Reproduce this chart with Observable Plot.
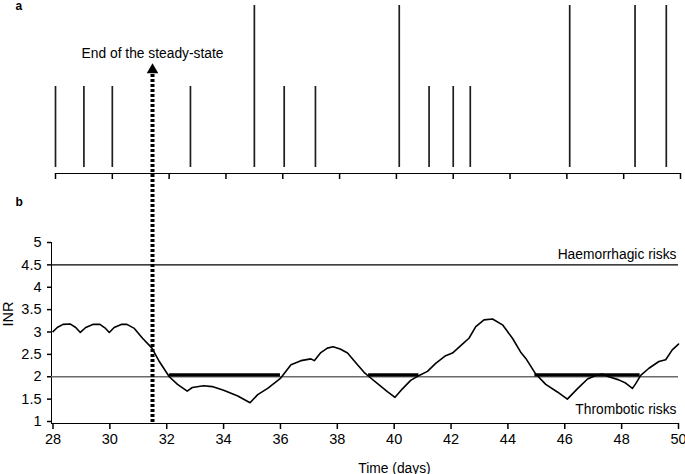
<!DOCTYPE html>
<html><head><meta charset="utf-8">
<script src="https://cdn.jsdelivr.net/npm/d3@7"></script>
<script src="https://cdn.jsdelivr.net/npm/@observablehq/plot@0.6"></script>
<style>
body{margin:0;background:#fff;}
#chart{position:relative;width:685px;height:474px;background:#fff;overflow:hidden}
#chart svg{position:absolute;left:0;top:0;}
#chart [aria-label^="x-axis"] path,#chart [aria-label^="y-axis"] path,#chart [aria-label^="x-axis"] line,#chart [aria-label^="y-axis"] line{stroke-width:1.5px;}
</style></head><body><div id="chart"></div>
<script>
// ---- data ----
// (a) dose administrations: time (days) and relative dose size
const doseDays   = [28.0, 29.0, 30.0, 32.75, 35.0, 36.05, 37.15, 40.1, 41.15, 42.0, 42.6, 46.1, 48.4, 49.5];
const doseAmount = [1,    1,    1,    1,     2,    1,     1,     2,    1,     1,    1,    2,    2,    2];

// (b) simulated INR over time
const inrDays = [28.00,28.15,28.35,28.60,28.80,28.96,29.15,29.40,29.65,29.85,29.98,30.15,30.40,30.60,30.86,31.15,31.48,31.74,32.09,32.38,32.72,32.90,33.30,33.60,34.00,34.50,34.93,35.20,35.55,36.01,36.37,36.72,37.07,37.19,37.42,37.65,37.85,38.10,38.36,38.71,38.94,39.12,39.47,39.76,40.03,40.29,40.58,40.88,41.17,41.46,41.81,42.05,42.40,42.63,42.87,43.16,43.46,43.81,44.16,44.45,44.63,44.98,45.33,45.74,46.09,46.44,46.80,47.09,47.32,47.55,47.90,48.14,48.38,48.49,48.67,48.96,49.31,49.55,49.78,50.00];
const inrValues = [3.01,3.10,3.17,3.18,3.10,2.99,3.10,3.17,3.17,3.08,2.99,3.10,3.17,3.17,3.08,2.86,2.64,2.34,2.00,1.83,1.68,1.76,1.80,1.78,1.70,1.57,1.42,1.60,1.74,1.97,2.27,2.36,2.40,2.36,2.54,2.64,2.67,2.62,2.53,2.27,2.10,2.00,1.82,1.67,1.54,1.73,1.92,2.03,2.12,2.30,2.47,2.53,2.73,2.86,3.12,3.27,3.29,3.16,2.86,2.55,2.41,2.06,1.83,1.66,1.50,1.73,1.95,2.03,2.06,2.00,1.93,1.86,1.74,1.84,2.03,2.19,2.34,2.38,2.60,2.73];

// periods flagged at the lower therapeutic bound
const lowStart = [32.1, 39.1, 44.95];
const lowEnd   = [36.0, 40.87, 48.65];

// thresholds
const haemorrhagicThreshold = 4.5;
const thromboticThreshold = 2;
const riskLabels = ["Haemorrhagic risks", "Thrombotic risks"];

// annotation
const steadyStateEnd = 31.5;
const steadyStateLabel = "End of the steady-state";

// ticks
const dayTicks = [28,30,32,34,36,38,40,42,44,46,48,50];
const inrTicks = [1,1.5,2,2.5,3,3.5,4,4.5,5];

const panelLabels = ["a", "b"];
const xLabel = "Time (days)";
const yLabel = "INR";

// ---- tables ----
const doses = doseDays.map((d, i) => ({day: d, amount: doseAmount[i]}));
const inr = inrDays.map((d, i) => ({day: d, inr: inrValues[i]}));
const lows = lowStart.map((s, i) => ({start: s, end: lowEnd[i], level: thromboticThreshold}));

const font = "'Liberation Sans', Arial, Helvetica, sans-serif";
const baseStyle = {fontFamily: font, fontSize: "14.5px", background: "transparent", overflow: "visible", color: "black"};

const panelA = Plot.plot({
  width: 685, height: 190,
  marginLeft: 55, marginRight: 5, marginTop: 5, marginBottom: 17,
  style: baseStyle,
  x: {domain: [28, 50], ticks: dayTicks, tickSize: 6, tickFormat: () => "", line: true, label: null},
  y: {domain: [0, 2], axis: null, insetBottom: 6},
  marks: [
    Plot.ruleX(doses, {x: "day", y1: 0, y2: "amount", stroke: "#1e1e1e", strokeWidth: 1.7}),
    Plot.text([panelLabels[0]], {frameAnchor: "top-left", textAnchor: "start", lineAnchor: "bottom", dx: -40, dy: 4, fontWeight: "bold", fontSize: 12})
  ]
});

const panelB = Plot.plot({
  width: 685, height: 474,
  marginLeft: 51, marginRight: 7, marginTop: 242, marginBottom: 51,
  style: baseStyle,
  x: {domain: [28, 50], ticks: dayTicks, tickSize: 6, tickPadding: 4, line: true, label: null, insetLeft: 1.5},
  y: {domain: [1, 5], ticks: inrTicks, tickFormat: d => String(d), tickSize: 4, tickPadding: 6, line: true, label: null, insetBottom: 2},
  marks: [
    Plot.ruleY([haemorrhagicThreshold], {stroke: "black", strokeWidth: 1.4}),
    Plot.ruleY([thromboticThreshold], {stroke: "#6a6a6a", strokeWidth: 1.4}),
    Plot.ruleY(lows, {y: "level", x1: "start", x2: "end", stroke: "black", strokeWidth: 3.2, dy: -1.8}),
    Plot.line(inr, {x: "day", y: "inr", stroke: "black", strokeWidth: 1.6}),
    Plot.text([riskLabels[0]], {x: () => 50, y: () => haemorrhagicThreshold, textAnchor: "end", lineAnchor: "bottom", dx: -2, dy: -6, fontSize: 13.8}),
    Plot.text([riskLabels[1]], {frameAnchor: "bottom-right", textAnchor: "end", lineAnchor: "bottom", dx: -2, dy: -10, fontSize: 13.8}),
    Plot.ruleX([steadyStateEnd], {x: d => d, stroke: "black", strokeWidth: 4, strokeDasharray: "3,2", insetTop: -168}),
    Plot.dot([steadyStateEnd], {x: d => d, frameAnchor: "top", symbol: "triangle", r: 4.3, fill: "black", stroke: "none", dy: -172.5}),
    Plot.text([steadyStateLabel], {x: () => steadyStateEnd, frameAnchor: "top", lineAnchor: "bottom", dy: -185, fontSize: 13.8}),
    Plot.text([yLabel], {frameAnchor: "left", rotate: -90, dx: -43.5, dy: -6.5, fontSize: 14.5}),
    Plot.text([xLabel], {frameAnchor: "bottom", lineAnchor: "bottom", dx: 29.5, dy: 49, fontSize: 13.8}),
    Plot.text([panelLabels[1]], {frameAnchor: "top-left", textAnchor: "start", lineAnchor: "bottom", dx: -36, dy: -37, fontWeight: "bold", fontSize: 12})
  ]
});

const chart = document.getElementById("chart");
chart.appendChild(panelA);
chart.appendChild(panelB);
</script></body></html>
